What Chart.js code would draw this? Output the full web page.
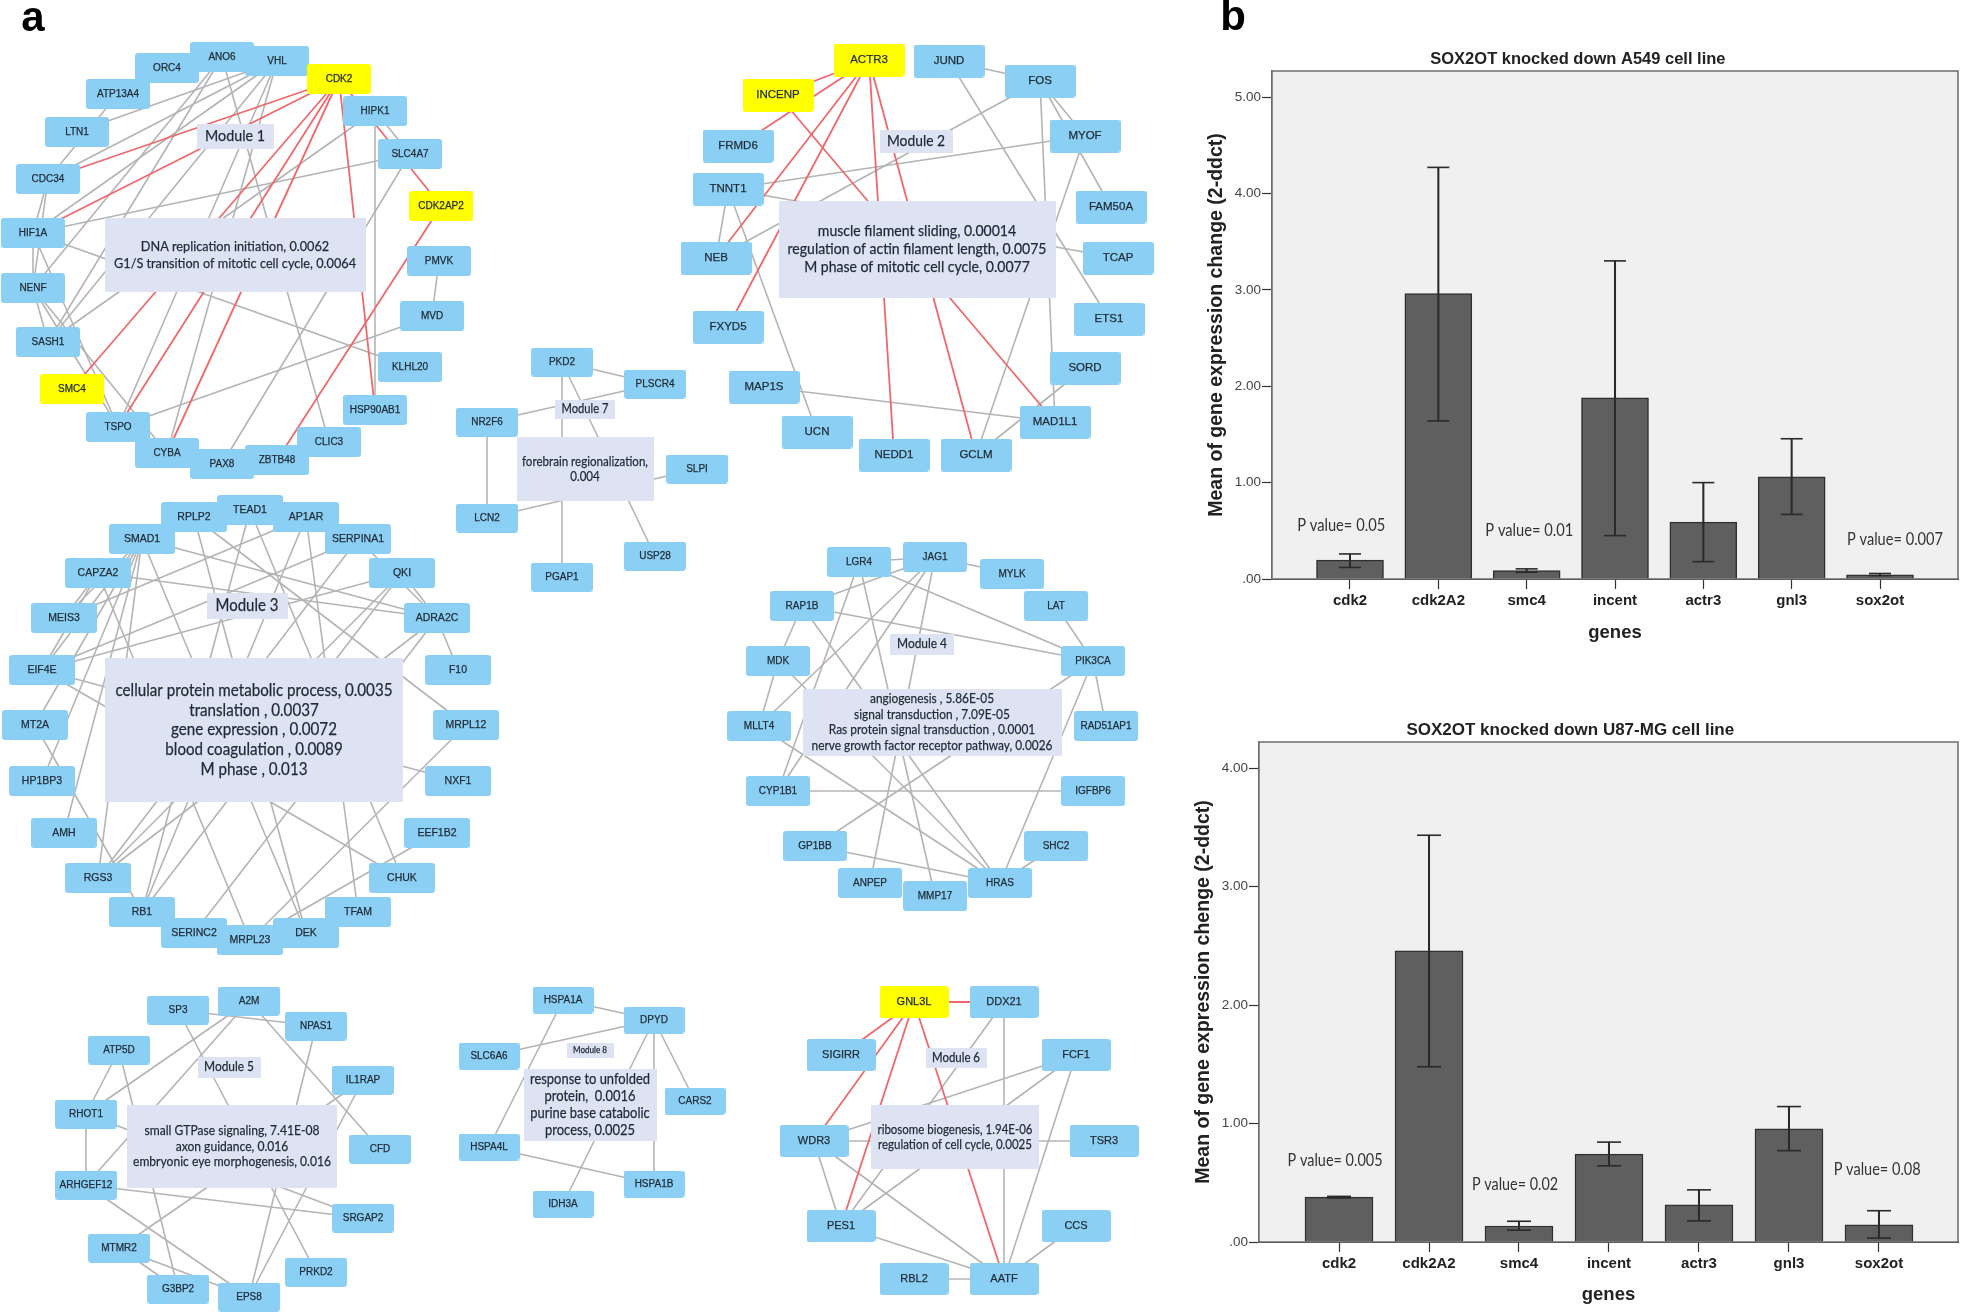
<!DOCTYPE html>
<html><head><meta charset="utf-8">
<script src="https://cdn.jsdelivr.net/npm/chart.js@4"></script>
<style>
html,body{margin:0;padding:0;background:#fff;width:1961px;height:1312px;overflow:hidden}
canvas{position:absolute;filter:blur(0.5px)}
</style></head><body>
<canvas id="net" width="1961" height="1312" style="left:0;top:0"></canvas>
<canvas id="barA" width="781" height="630" style="left:1180px;top:30px"></canvas>
<canvas id="barB" width="781" height="612" style="left:1180px;top:700px"></canvas>
<script>
// ---------- bar chart data ----------
const genes = ['cdk2','cdk2A2','smc4','incent','actr3','gnl3','sox2ot'];
const a549Mean = [0.196,2.96,0.087,1.88,0.59,1.06,0.044];
const a549Low  = [0.12,1.64,0.07,0.45,0.18,0.67,0.035];
const a549High = [0.26,4.27,0.105,3.30,1.00,1.455,0.057];
const a549PText = ['P value= 0.05','P value= 0.01','P value= 0.007'];
const a549PAt = [[0.90,0.56],[3.03,0.50],[7.17,0.405]];
const u87Mean = [0.379,2.458,0.135,0.741,0.313,0.955,0.145];
const u87Low  = [0.372,1.479,0.10,0.643,0.178,0.771,0.033];
const u87High = [0.385,3.433,0.175,0.843,0.44,1.143,0.264];
const u87PText = ['P value= 0.005','P value= 0.02','P value= 0.08'];
const u87PAt = [[0.956,0.684],[2.956,0.481],[6.98,0.608]];
const significantGenes = ['CDK2','CDK2AP2','SMC4','ACTR3','INCENP','GNL3L'];

// ---------- network data (node positions in the figure's own units) ----------
const m1Nodes = ['VHL','ANO6','ORC4','ATP13A4','LTN1','CDC34','HIF1A','NENF','SASH1','SMC4','TSPO','CYBA','PAX8','ZBTB48','CLIC3','HSP90AB1','KLHL20','MVD','PMVK','CDK2AP2','SLC4A7','HIPK1','CDK2'];
const m1X = [277,222,167,118,77,48,33,33,48,72,118,167,222,277,329,375,410,432,439,441,410,375,339];
const m1Y = [61,57,68,94,132,179,233,288,342,389,427,453,464,460,442,410,367,316,261,206,154,111,79];
const m1Gray = [['ATP13A4','CDC34'],['LTN1','VHL'],['CDC34','VHL'],['HIF1A','VHL'],['CDC34','HIF1A'],['CDC34','NENF'],['ANO6','SASH1'],['ANO6','NENF'],['ANO6','CLIC3'],['VHL','CYBA'],['VHL','TSPO'],['VHL','SASH1'],['SASH1','HIPK1'],['HIF1A','KLHL20'],['HIF1A','SLC4A7'],['HIF1A','NENF'],['HIF1A','TSPO'],['NENF','SASH1'],['NENF','CYBA'],['NENF','TSPO'],['TSPO','MVD'],['PAX8','SLC4A7'],['HIPK1','HSP90AB1'],['HIPK1','SLC4A7'],['PMVK','MVD']];
const m1Red = [['CDK2','CDC34'],['CDK2','HIF1A'],['CDK2','SMC4'],['CDK2','TSPO'],['CDK2','CYBA'],['CDK2','HSP90AB1'],['CDK2','ANO6'],['CDK2','CDK2AP2'],['CDK2AP2','ZBTB48']];

const m2Nodes = ['JUND','FOS','MYOF','FAM50A','TCAP','ETS1','SORD','MAD1L1','GCLM','NEDD1','UCN','MAP1S','FXYD5','NEB','TNNT1','FRMD6','INCENP','ACTR3'];
const m2X = [949,1040,1085,1111,1118,1109,1085,1055,976,894,817,764,728,716,728,738,778,869];
const m2Y = [61,81,136,207,258,319,368,422,455,455,432,387,327,258,189,146,95,60];
const m2Gray = [['JUND','FOS'],['JUND','ETS1'],['FOS','MYOF'],['FOS','FAM50A'],['FOS','MAD1L1'],['FOS','NEB'],['MYOF','TNNT1'],['MYOF','GCLM'],['TCAP','TNNT1'],['TNNT1','NEB'],['TNNT1','UCN'],['MAP1S','MAD1L1'],['SORD','GCLM']];
const m2Red = [['ACTR3','FRMD6'],['ACTR3','INCENP'],['ACTR3','NEB'],['ACTR3','FXYD5'],['ACTR3','NEDD1'],['ACTR3','GCLM'],['INCENP','MAD1L1']];

const m3Nodes = ['RPLP2','AP1AR','TEAD1','SMAD1','SERPINA1','CAPZA2','QKI','MEIS3','ADRA2C','EIF4E','F10','MT2A','MRPL12','HP1BP3','NXF1','AMH','EEF1B2','RGS3','CHUK','RB1','TFAM','SERINC2','DEK','MRPL23'];
const m3X = [194,306,250,142,358,98,402,64,437,42,458,35,466,42,458,64,437,98,402,142,358,194,306,250];
const m3Y = [517,517,510,539,539,573,573,618,618,670,670,725,725,781,781,833,833,878,878,912,912,933,933,940];
const m3Gray = [['RPLP2','DEK'],['TEAD1','RB1'],['TEAD1','CHUK'],['AP1AR','RB1'],['AP1AR','TFAM'],['AP1AR','MEIS3'],['EIF4E','QKI'],['EIF4E','SERPINA1'],['SERPINA1','RGS3'],['QKI','RGS3'],['QKI','RB1'],['QKI','ADRA2C'],['SERPINA1','ADRA2C'],['RPLP2','MRPL12'],['CAPZA2','ADRA2C'],['SMAD1','ADRA2C'],['ADRA2C','RGS3'],['ADRA2C','SERINC2'],['F10','ADRA2C'],['MRPL12','MRPL23'],['EIF4E','NXF1'],['EIF4E','CHUK'],['EEF1B2','MRPL23'],['MT2A','RB1'],['SMAD1','EIF4E'],['SMAD1','MEIS3'],['SMAD1','MT2A'],['SMAD1','HP1BP3'],['SMAD1','AMH'],['SMAD1','RGS3'],['SMAD1','DEK'],['CAPZA2','MRPL23'],['CAPZA2','EIF4E'],['CAPZA2','MEIS3']];

const m4Nodes = ['LGR4','JAG1','MYLK','LAT','RAP1B','MDK','PIK3CA','MLLT4','RAD51AP1','CYP1B1','IGFBP6','GP1BB','SHC2','ANPEP','HRAS','MMP17'];
const m4X = [859,935,1012,1056,802,778,1093,759,1106,778,1093,815,1056,870,1000,935];
const m4Y = [562,557,574,606,606,661,661,726,726,791,791,846,846,883,883,896];
const m4Gray = [['LGR4','JAG1'],['RAP1B','JAG1'],['JAG1','MYLK'],['LGR4','PIK3CA'],['LGR4','CYP1B1'],['LGR4','MMP17'],['JAG1','MLLT4'],['JAG1','CYP1B1'],['JAG1','ANPEP'],['RAP1B','PIK3CA'],['RAP1B','MDK'],['RAP1B','HRAS'],['MDK','MLLT4'],['MDK','HRAS'],['MLLT4','HRAS'],['CYP1B1','IGFBP6'],['GP1BB','PIK3CA'],['GP1BB','HRAS'],['LAT','PIK3CA'],['PIK3CA','RAD51AP1'],['PIK3CA','HRAS'],['SHC2','HRAS']];

const m5Nodes = ['SP3','A2M','NPAS1','ATP5D','IL1RAP','RHOT1','CFD','ARHGEF12','SRGAP2','MTMR2','PRKD2','G3BP2','EPS8'];
const m5X = [178,249,316,119,363,86,380,86,363,119,316,178,249];
const m5Y = [1010,1001,1026,1050,1080,1114,1149,1185,1218,1248,1272,1289,1297];
const m5Gray = [['SP3','NPAS1'],['SP3','PRKD2'],['A2M','RHOT1'],['A2M','ARHGEF12'],['A2M','CFD'],['NPAS1','EPS8'],['ATP5D','RHOT1'],['ATP5D','G3BP2'],['IL1RAP','MTMR2'],['IL1RAP','EPS8'],['RHOT1','ARHGEF12'],['RHOT1','SRGAP2'],['ARHGEF12','SRGAP2'],['ARHGEF12','EPS8'],['MTMR2','G3BP2'],['MTMR2','EPS8']];

const m6Nodes = ['DDX21','SIGIRR','FCF1','WDR3','TSR3','PES1','CCS','RBL2','AATF','GNL3L'];
const m6X = [1004,841,1076,814,1104,841,1076,914,1004,914];
const m6Y = [1002,1055,1055,1141,1141,1226,1226,1279,1279,1002];
const m6Gray = [['DDX21','AATF'],['DDX21','PES1'],['FCF1','WDR3'],['FCF1','PES1'],['FCF1','AATF'],['WDR3','TSR3'],['WDR3','PES1'],['WDR3','AATF'],['PES1','AATF'],['RBL2','AATF'],['CCS','AATF']];
const m6Red = [['GNL3L','DDX21'],['GNL3L','SIGIRR'],['GNL3L','WDR3'],['GNL3L','PES1'],['GNL3L','AATF']];

const m7Nodes = ['PKD2','PLSCR4','NR2F6','LCN2','SLPI','USP28','PGAP1'];
const m7X = [562,655,487,487,697,655,562];
const m7Y = [362,384,422,518,469,556,577];
const m7Gray = [['PKD2','PLSCR4'],['PKD2','PGAP1'],['PKD2','USP28'],['PLSCR4','NR2F6'],['NR2F6','LCN2'],['LCN2','SLPI']];

const m8Nodes = ['HSPA1A','DPYD','SLC6A6','CARS2','HSPA4L','HSPA1B','IDH3A'];
const m8X = [563,654,489,695,489,654,563];
const m8Y = [1000,1020,1056,1101,1147,1184,1204];
const m8Gray = [['HSPA1A','DPYD'],['HSPA1A','HSPA4L'],['DPYD','SLC6A6'],['DPYD','CARS2'],['DPYD','HSPA1B'],['DPYD','IDH3A'],['HSPA4L','HSPA1B']];

const moduleTitles = ['Module 1','Module 2','Module 3','Module 4','Module 5','Module 6','Module 7','Module 8'];
const moduleTerms = [
 ['DNA replication initiation, 0.0062','G1/S transition of mitotic cell cycle, 0.0064'],
 ['muscle filament sliding, 0.00014','regulation of actin filament length, 0.0075','M phase of mitotic cell cycle, 0.0077'],
 ['cellular protein metabolic process, 0.0035','translation , 0.0037','gene expression , 0.0072','blood coagulation , 0.0089','M phase , 0.013'],
 ['angiogenesis , 5.86E-05','signal transduction , 7.09E-05','Ras protein signal transduction , 0.0001','nerve growth factor receptor pathway, 0.0026'],
 ['small GTPase signaling, 7.41E-08','axon guidance, 0.016','embryonic eye morphogenesis, 0.016'],
 ['ribosome biogenesis, 1.94E-06','regulation of cell cycle, 0.0025'],
 ['forebrain regionalization,','0.004'],
 ['response to unfolded','protein,  0.0016','purine base catabolic','process, 0.0025']
];
const titleX = [235,916,247,922,229,956,585,590];
const titleY = [136,141,606,644,1067,1058,409,1050];
const termX = [235,917,254,932,232,955,585,590];
const termY = [255,249,730,722,1146,1137,469,1105];

// ---------- layout and style (kept apart from the data) ----------
const titleBox = [[77,25],[73,23],[81,26],[64,21],[63,21],[61,20],[60,19],[47,15]];
const termBox = [[261,74],[277,97],[298,144],[259,67],[210,83],[168,64],[137,64],[133,72]];
const nodeBox = [[64,30],[71,33],[66,30],[64,30],[62,29],[69,32],[62,29],[61,27]];
const nodeFont = [10,11.5,10.5,10,10,11,10,10];
const titleFont = [15.5,15.5,16.5,13.5,13.5,13,13,9];
const titleWidth = [60,58,63,50,50,48,47,34];
const termFont = [14,15,16.5,14,14,13.5,13.5,15];
const termWidth = [242,259,277,241,198,155,126,120];
const termLead = [16.5,18,19.6,15.5,15.7,14.7,14.3,17];
const NODE='#8ccff5', HILITE='#ffff00', INFO='#dde3f2', GRAY='#b4b4b4', RED='#f0686c', INK='#1f2b34';

const modules = [
 {n:m1Nodes,x:m1X,y:m1Y,g:m1Gray,r:m1Red},{n:m2Nodes,x:m2X,y:m2Y,g:m2Gray,r:m2Red},
 {n:m3Nodes,x:m3X,y:m3Y,g:m3Gray,r:[]},{n:m4Nodes,x:m4X,y:m4Y,g:m4Gray,r:[]},
 {n:m5Nodes,x:m5X,y:m5Y,g:m5Gray,r:[]},{n:m6Nodes,x:m6X,y:m6Y,g:m6Gray,r:m6Red},
 {n:m7Nodes,x:m7X,y:m7Y,g:m7Gray,r:[]},{n:m8Nodes,x:m8X,y:m8Y,g:m8Gray,r:[]}
];

function boxImage(w,h,color,radius){
  const c=document.createElement('canvas'); c.width=w; c.height=h;
  const g=c.getContext('2d'); g.fillStyle=color;
  g.beginPath(); g.roundRect(0,0,w,h,radius); g.fill();
  return c;
}
const netSets=[];
modules.forEach((m,k)=>{
  const at=name=>{const i=m.n.indexOf(name);return {x:m.x[i],y:m.y[i]};};
  const addEdges=(list,color,w,order)=>list.forEach(e=>netSets.push({
    label:e.join('-'),data:[at(e[0]),at(e[1])],showLine:true,borderColor:color,borderWidth:w,pointRadius:0,order}));
  addEdges(m.g,GRAY,1.6,5);
  addEdges(m.r,RED,1.8,4);
  netSets.push({label:'terms '+(k+1),data:[{x:termX[k],y:termY[k]},{x:titleX[k],y:titleY[k]}],pointRadius:1,order:3,
    pointStyle:[boxImage(termBox[k][0],termBox[k][1],INFO,0),boxImage(titleBox[k][0],titleBox[k][1],INFO,0)]});
  const [w,h]=nodeBox[k];
  const plain=m.n.filter(s=>!significantGenes.includes(s));
  const hot=m.n.filter(s=>significantGenes.includes(s));
  netSets.push({label:'nodes '+(k+1),data:plain.map(at),pointRadius:1,order:2,pointStyle:boxImage(w,h,NODE,3)});
  if(hot.length) netSets.push({label:'highlighted '+(k+1),data:hot.map(at),pointRadius:1,order:1,pointStyle:boxImage(w,h,HILITE,3)});
});

function inkText(c,s,x,y,maxW){
  if(maxW===undefined){c.fillText(s,x,y);c.strokeText(s,x,y);}
  else{c.fillText(s,x,y,maxW);c.strokeText(s,x,y,maxW);}
}
const netLabels={id:'netLabels',afterDatasetsDraw(chart){
  const c=chart.ctx,X=chart.scales.x,Y=chart.scales.y;
  c.save(); c.textAlign='center'; c.textBaseline='middle'; c.fillStyle=INK; c.strokeStyle=INK; c.lineWidth=0.25;
  modules.forEach((m,k)=>{
    c.font=nodeFont[k]+'px "Liberation Sans"';
    m.n.forEach((s,i)=>inkText(c,s,X.getPixelForValue(m.x[i]),Y.getPixelForValue(m.y[i])));
    c.font=titleFont[k]+'px Lato';
    inkText(c,moduleTitles[k],X.getPixelForValue(titleX[k]),Y.getPixelForValue(titleY[k]),titleWidth[k]);
    c.font=termFont[k]+'px Lato';
    const t=moduleTerms[k];
    const ratio=termWidth[k]/Math.max(...t.map(s=>c.measureText(s).width));
    t.forEach((s,i)=>inkText(c,s,X.getPixelForValue(termX[k]),Y.getPixelForValue(termY[k]+(i-(t.length-1)/2)*termLead[k]),c.measureText(s).width*ratio));
  });
  c.fillStyle='#000'; c.font='bold 42px "Liberation Sans"';
  c.fillText('a',X.getPixelForValue(33),Y.getPixelForValue(19));
  c.fillText('b',X.getPixelForValue(1233),Y.getPixelForValue(18));
  c.restore();
}};

new Chart(document.getElementById('net'),{
  type:'scatter',data:{datasets:netSets},plugins:[netLabels],
  options:{responsive:false,animation:false,events:[],layout:{padding:0,autoPadding:false},
    plugins:{legend:{display:false},tooltip:{enabled:false}},
    scales:{x:{type:'linear',min:0,max:1961,display:false},y:{type:'linear',min:0,max:1312,reverse:true,display:false}}}
});

// ---------- bar charts ----------
function barChart(id,cfg){
  const xy=v=>v.map((y,i)=>({x:i+1,y}));
  const stems=cfg.low.map((l,i)=>({x:i+1,y:[l,cfg.high[i]]}));
  const decorate={id:'decorate',
    beforeDatasetsDraw(ch){const a=ch.chartArea,c=ch.ctx;c.save();c.fillStyle='#f0f0f0';
      c.fillRect(a.left,a.top,a.width,a.height);c.strokeStyle='#6e6e6e';c.lineWidth=1.5;
      c.strokeRect(a.left,a.top,a.width,a.height);c.restore();},
    afterDraw(ch){const c=ch.ctx,X=ch.scales.x,Y=ch.scales.y;c.save();c.textAlign='center';c.textBaseline='middle';
      c.fillStyle='#333';c.font='17px Lato';
      cfg.pText.forEach((s,i)=>c.fillText(s,X.getPixelForValue(cfg.pAt[i][0]),Y.getPixelForValue(cfg.pAt[i][1]),cfg.pWidth[i]));
      c.fillStyle='#222';c.font='bold '+cfg.titleFont+'px "Liberation Sans"';
      c.fillText(cfg.title,X.getPixelForValue(cfg.titleAt[0]),Y.getPixelForValue(cfg.titleAt[1]));
      c.restore();}
  };
  const cap=(vals,name)=>({type:'scatter',label:name,data:xy(vals),pointStyle:'line',pointRadius:cfg.cap,
    pointBorderColor:'#2a2a2a',pointBorderWidth:1.6,order:1});
  return new Chart(document.getElementById(id),{
    type:'bar',plugins:[decorate],
    data:{labels:genes,datasets:[
      {label:'mean',data:xy(cfg.mean),backgroundColor:'#5f5f5f',borderColor:'#303030',borderWidth:1.5,barThickness:cfg.bar,grouped:false,order:3},
      {label:'error',data:stems,backgroundColor:'#2a2a2a',borderWidth:0,barThickness:1.4,grouped:false,order:2},
      cap(cfg.low,'low'),cap(cfg.high,'high')
    ]},
    options:{responsive:false,animation:false,events:[],
      layout:{autoPadding:false,padding:{left:0,right:3,top:cfg.top,bottom:0}},
      plugins:{legend:{display:false},tooltip:{enabled:false}},
      scales:{
        x:{type:'linear',offset:false,min:cfg.xMin,max:cfg.xMax,
          afterFit(s){s.height=cfg.xH;},
          afterBuildTicks(s){s.ticks=genes.map((g,i)=>({value:i+1}));},
          border:{color:'#2a2a2a',width:2},
          grid:{offset:false,drawOnChartArea:false,drawTicks:true,tickLength:10,tickColor:'#333',tickWidth:1.2},
          ticks:{autoSkip:false,maxRotation:0,padding:3,color:'#222',font:{family:'Liberation Sans',size:15,weight:'bold'},
            callback:v=>genes[v-1]},
          title:{display:true,text:'genes',color:'#222',font:{family:'Liberation Sans',size:18.5,weight:'bold'},padding:{top:0,bottom:cfg.xTitlePad}}},
        y:{type:'linear',min:0,max:cfg.yMax,
          afterFit(s){s.width=cfg.yW;},
          afterBuildTicks(s){s.ticks=s.ticks.filter(t=>Number.isInteger(t.value));},
          border:{color:'#6e6e6e',width:1.5},
          grid:{drawOnChartArea:false,drawTicks:true,tickLength:10,tickColor:'#333',tickWidth:1.2},
          ticks:{stepSize:1,padding:1,color:'#444',font:{family:'Liberation Sans',size:13.5},
            callback:v=>v===0?'.00':v.toFixed(2)},
          title:{display:true,text:cfg.yTitle,color:'#222',font:{family:'Liberation Sans',size:19.5,weight:'bold'},padding:{top:cfg.yTitlePad,bottom:0}}}
      }}
  });
}
barChart('barA',{mean:a549Mean,low:a549Low,high:a549High,pText:a549PText,pAt:a549PAt,pWidth:[88,88,96],
  title:'SOX2OT knocked down A549 cell line',titleFont:16.5,titleAt:[3.58,5.39],yTitle:'Mean of gene expression change (2-ddct)',
  xMin:0.117,xMax:7.883,yMax:5.27,top:41,xH:81,yW:92,xTitlePad:16,yTitlePad:25,bar:67,cap:11});
barChart('barB',{mean:u87Mean,low:u87Low,high:u87High,pText:u87PText,pAt:u87PAt,pWidth:[95,86,87],
  title:'SOX2OT knocked down U87-MG cell line',titleFont:17,titleAt:[3.57,4.32],yTitle:'Mean of gene expression chenge (2-ddct)',
  xMin:0.111,xMax:7.878,yMax:4.22,top:42,xH:70,yW:79,xTitlePad:6,yTitlePad:12,bar:68,cap:12});
</script>
</body></html>
